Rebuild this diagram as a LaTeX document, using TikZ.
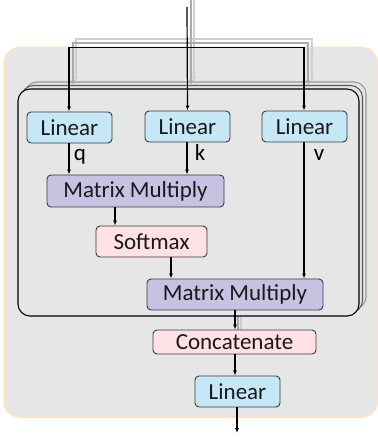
\documentclass[tikz,border=0pt]{standalone}
\usepackage{fontspec}
\setmainfont{Carlito}
\usetikzlibrary{arrows.meta}
\definecolor{bgfill}{HTML}{E6E6E6}
\definecolor{bgedge}{HTML}{FDE3BF}
\definecolor{bluefill}{HTML}{C5E7F6}
\definecolor{lavfill}{HTML}{C8C1E2}
\definecolor{pinkfill}{HTML}{FDE1E4}
\definecolor{nodeedge}{HTML}{3A3A3A}
\definecolor{shadeA}{HTML}{ABABAB}
\definecolor{shadeB}{HTML}{CFCFCF}
\tikzset{
  blk/.style={rounded corners=4pt, draw=nodeedge, line width=0.9pt, inner sep=0pt,
    font=\fontsize{23}{27}\selectfont, text=black!90},
  bluebox/.style={blk, fill=bluefill, minimum width=85pt, minimum height=31pt},
  mmbox/.style={blk, fill=lavfill, minimum width=177pt, minimum height=32pt},
  pinkbox/.style={blk, fill=pinkfill},
  lbl/.style={font=\fontsize{23}{27}\selectfont, inner sep=0pt, anchor=base},
  arr/.style={line width=1.2pt, -{Latex[length=5pt,width=4pt]}},
  conn/.style={line width=1.2pt},
  shA/.style={line width=1.2pt, draw=shadeA, -{Latex[length=5pt,width=4pt]}},
  shB/.style={line width=1.2pt, draw=shadeB, -{Latex[length=5pt,width=4pt]}},
  headbox/.style={rounded corners=12pt, fill=bgfill, line width=1.1pt},
}
\begin{document}
\begin{tikzpicture}[x=1pt,y=-1pt]
\useasboundingbox (0,0) rectangle (377,438);
% outer background
\draw[rounded corners=16pt, fill=bgfill, draw=bgedge, line width=1.5pt] (4,47.5) rectangle (377.5,417);
% stacked head boxes (back to front)
\draw[headbox, draw=black!40] (25,82) rectangle (366,309);
\draw[headbox, draw=black!65] (21.5,85.5) rectangle (362.5,312.5);
% shadows of the lower connector
\coordinate (s1t) at (241,309); \coordinate (s1b) at (241,330);
\coordinate (s2t) at (238,312); \coordinate (s2b) at (238,330);
\draw[line width=1.2pt, draw=shadeB] (s1t) -- (s1b);
\draw[line width=1.2pt, draw=shadeA] (s2t) -- (s2b);
\draw[headbox, draw=black] (18,89) rectangle (359,316);
% shadows of the input connectors
\coordinate (b3in) at (194,0); \coordinate (b3l) at (76,39); \coordinate (b3r) at (312,39); \coordinate (b3m) at (194,39);
\coordinate (b3lend) at (76,82); \coordinate (b3mend) at (194,82); \coordinate (b3rend) at (312,82);
\draw[shB] (b3in) -- (b3mend);
\draw[shB] (b3r) -- (b3l) -- (b3lend);
\draw[shB] (b3l) -- (b3r) -- (b3rend);
\coordinate (b2in) at (191,0); \coordinate (b2l) at (73,43); \coordinate (b2r) at (308,43);
\coordinate (b2lend) at (73,85.5); \coordinate (b2mend) at (191,85.5); \coordinate (b2rend) at (308,85.5);
\draw[shA] (b2in) -- (b2mend);
\draw[shA] (b2r) -- (b2l) -- (b2lend);
\draw[shA] (b2l) -- (b2r) -- (b2rend);
% nodes
\node[bluebox] (lq) at (69.5,127.5) {Linear};
\node[bluebox] (lk) at (187.5,126.5) {Linear};
\node[bluebox] (lv) at (304.5,126.5) {Linear};
\node[mmbox] (mm1) at (135.5,191) {Matrix Multiply};
\node[pinkbox, minimum width=111pt, minimum height=31pt] (sm) at (151.5,241.5) {Softmax};
\node[mmbox, minimum width=176pt, minimum height=31pt] (mm2) at (235,294.5) {Matrix Multiply};
\node[pinkbox, minimum width=163pt, minimum height=24pt] (cc) at (234.5,342) {Concatenate};
\node[bluebox] (lo) at (237.5,391.5) {Linear};
% labels
\node[lbl] (q) at (80,161) {q};
\node[lbl] (k) at (200,161) {k};
\node[lbl] (v) at (319,161) {v};
% input connectors
\coordinate (in) at (187,7);
\coordinate (hl) at (69,47.5);
\coordinate (hr) at (304,47.5);
\draw[arr] (in) -- (lk.north);
\draw[conn] (hr) -- (hl);
\draw[arr] (hl) -- (lq.north -| hl);
\draw[arr] (hr) -- (lv.north -| hr);
% inner connectors
\draw[arr] (lq.south -| 69,0) -- (mm1.north -| 69,0);
\draw[arr] (lk.south -| 187,0) -- (mm1.north -| 187,0);
\draw[arr] (mm1.south -| 115,0) -- (sm.north -| 115,0);
\draw[arr] (sm.south -| 171,0) -- (mm2.north -| 171,0);
\draw[arr] (lv.south -| 304,0) -- (mm2.north -| 304,0);
\draw[arr] (mm2.south -| 235,0) -- (cc.north -| 235,0);
\draw[arr] (cc.south -| 235,0) -- (lo.north -| 235,0);
\coordinate (out) at (237,433);
\draw[arr] (lo.south -| out) -- (out);
\end{tikzpicture}
\end{document}
